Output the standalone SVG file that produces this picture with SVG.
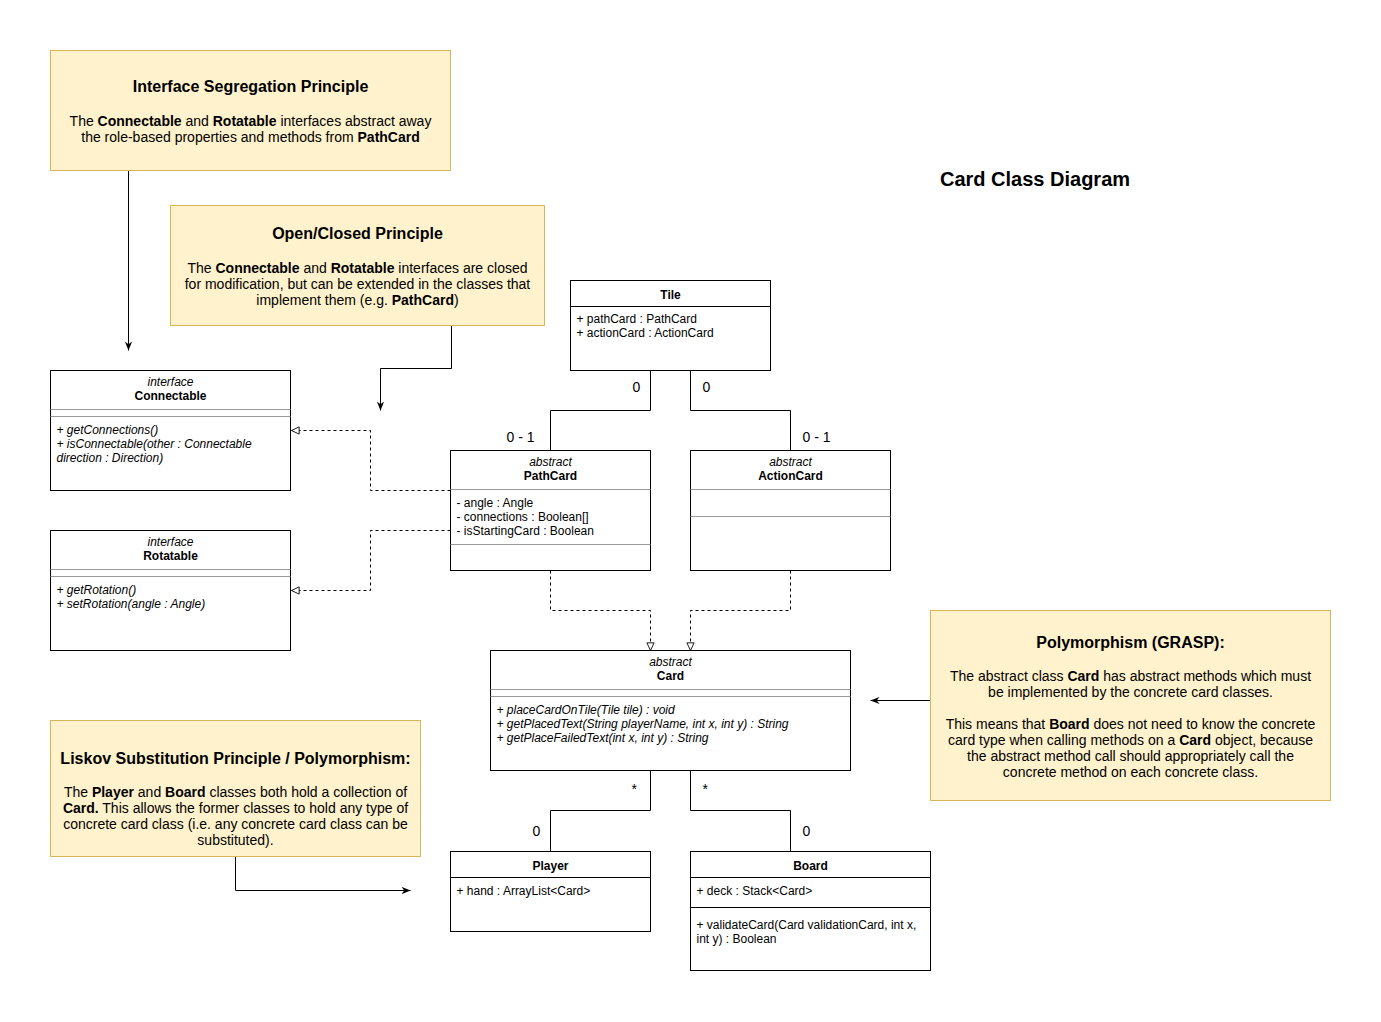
<svg xmlns="http://www.w3.org/2000/svg" width="1381" height="1022" viewBox="0 0 1381 1022">
<defs>
<style>
text{font-family:"Liberation Sans",Arial,Helvetica,sans-serif;fill:#000}
.note{fill:#fff2cc;stroke:#d6b656;stroke-width:1}
.cls{fill:#fff;stroke:#000;stroke-width:1}
.sep{stroke:#999;stroke-width:1}
.sepk{stroke:#000;stroke-width:1}
.nt{font-size:16px;font-weight:bold;text-anchor:middle}
.nb{font-size:14px;text-anchor:middle}
.ct{font-size:12px;font-weight:bold;text-anchor:middle}
.cs{font-size:12px;font-style:italic;text-anchor:middle}
.ca{font-size:12px}
.cm{font-size:12px;font-style:italic}
.lbl{font-size:14px}
.b{font-weight:bold}
.edge{fill:none;stroke:#000;stroke-width:1}
.dash{fill:none;stroke:#000;stroke-width:1;stroke-dasharray:3 3}
</style>
<marker id="arr" viewBox="0 0 10 10" refX="10" refY="5" markerWidth="9" markerHeight="9" orient="auto" markerUnits="userSpaceOnUse"><path d="M0,1 L10,5 L0,9 L3,5 z" fill="#000"/></marker>
<marker id="tri" viewBox="0 0 10 10" refX="9.5" refY="5" markerWidth="9" markerHeight="9" orient="auto" markerUnits="userSpaceOnUse"><path d="M1,1 L9.5,5 L1,9 z" fill="#fff" stroke="#000" stroke-width="1"/></marker>
</defs>
<rect width="1381" height="1022" fill="#fff"/>

<text x="1035" y="186" font-size="20" font-weight="bold" text-anchor="middle">Card Class Diagram</text>

<g transform="translate(0.5 0.5)">
<g id="connectors">
<path class="edge" d="M128,170 V350" marker-end="url(#arr)"/>
<path class="edge" d="M451,325 V368 H380 V410" marker-end="url(#arr)"/>
<path class="edge" d="M930,700 H870" marker-end="url(#arr)"/>
<path class="edge" d="M235,856 V890 H410" marker-end="url(#arr)"/>
<path class="edge" d="M650,370 V410 H550 V450"/>
<path class="edge" d="M690,370 V410 H790 V450"/>
<path class="edge" d="M650,770 V810 H550 V851"/>
<path class="edge" d="M690,770 V810 H790 V851"/>
<path class="dash" d="M450,490 H370 V430 H291" marker-end="url(#tri)"/>
<path class="dash" d="M450,530 H370 V590 H291" marker-end="url(#tri)"/>
<path class="dash" d="M550,570 V610 H650 V650" marker-end="url(#tri)"/>
<path class="dash" d="M790,570 V610 H690 V650" marker-end="url(#tri)"/>
<text class="lbl" x="632" y="391">0</text>
<text class="lbl" x="702" y="391">0</text>
<text class="lbl" x="506" y="441">0 - 1</text>
<text class="lbl" x="802" y="441">0 - 1</text>
<text class="lbl" x="631" y="793" font-size="12">*</text>
<text class="lbl" x="702" y="793" font-size="12">*</text>
<text class="lbl" x="532" y="835">0</text>
<text class="lbl" x="802" y="835">0</text>
</g>

<g id="isp">
<rect class="note" x="50" y="50" width="400" height="120"/>
<text class="nt" x="250" y="91">Interface Segregation Principle</text>
<text class="nb" x="250" y="125">The <tspan class="b">Connectable</tspan> and <tspan class="b">Rotatable</tspan> interfaces abstract away</text>
<text class="nb" x="250" y="141">the role-based properties and methods from <tspan class="b">PathCard</tspan></text>
</g>

<g id="ocp">
<rect class="note" x="170" y="205" width="374" height="120"/>
<text class="nt" x="357" y="238">Open/Closed Principle</text>
<text class="nb" x="357" y="272">The <tspan class="b">Connectable</tspan> and <tspan class="b">Rotatable</tspan> interfaces are closed</text>
<text class="nb" x="357" y="288">for modification, but can be extended in the classes that</text>
<text class="nb" x="357" y="304">implement them (e.g. <tspan class="b">PathCard</tspan>)</text>
</g>

<g id="tile">
<rect class="cls" x="570" y="280" width="200" height="90"/>
<line class="sepk" x1="570" y1="306" x2="770" y2="306"/>
<text class="ct" x="670" y="298">Tile</text>
<text class="ca" x="576" y="322">+ pathCard : PathCard</text>
<text class="ca" x="576" y="336">+ actionCard : ActionCard</text>
</g>

<g id="connectable">
<rect class="cls" x="50" y="370" width="240" height="120"/>
<text class="cs" x="170" y="385">interface</text>
<text class="ct" x="170" y="399">Connectable</text>
<line class="sep" x1="50" y1="409" x2="290" y2="409"/>
<line class="sep" x1="50" y1="416" x2="290" y2="416"/>
<text class="cm" x="56" y="433">+ getConnections()</text>
<text class="cm" x="56" y="447">+ isConnectable(other : Connectable</text>
<text class="cm" x="56" y="461">direction : Direction)</text>
</g>

<g id="rotatable">
<rect class="cls" x="50" y="530" width="240" height="120"/>
<text class="cs" x="170" y="545">interface</text>
<text class="ct" x="170" y="559">Rotatable</text>
<line class="sep" x1="50" y1="569" x2="290" y2="569"/>
<line class="sep" x1="50" y1="576" x2="290" y2="576"/>
<text class="cm" x="56" y="593">+ getRotation()</text>
<text class="cm" x="56" y="607">+ setRotation(angle : Angle)</text>
</g>

<g id="pathcard">
<rect class="cls" x="450" y="450" width="200" height="120"/>
<text class="cs" x="550" y="465">abstract</text>
<text class="ct" x="550" y="479">PathCard</text>
<line class="sep" x1="450" y1="489" x2="650" y2="489"/>
<text class="ca" x="456" y="506">- angle : Angle</text>
<text class="ca" x="456" y="520">- connections : Boolean[]</text>
<text class="ca" x="456" y="534">- isStartingCard : Boolean</text>
<line class="sep" x1="450" y1="544" x2="650" y2="544"/>
</g>

<g id="actioncard">
<rect class="cls" x="690" y="450" width="200" height="120"/>
<text class="cs" x="790" y="465">abstract</text>
<text class="ct" x="790" y="479">ActionCard</text>
<line class="sep" x1="690" y1="489" x2="890" y2="489"/>
<line class="sep" x1="690" y1="516" x2="890" y2="516"/>
</g>

<g id="card">
<rect class="cls" x="490" y="650" width="360" height="120"/>
<text class="cs" x="670" y="665">abstract</text>
<text class="ct" x="670" y="679">Card</text>
<line class="sep" x1="490" y1="689" x2="850" y2="689"/>
<line class="sep" x1="490" y1="696" x2="850" y2="696"/>
<text class="cm" x="496" y="713">+ placeCardOnTile(Tile tile) : void</text>
<text class="cm" x="496" y="727">+ getPlacedText(String playerName, int x, int y) : String</text>
<text class="cm" x="496" y="741">+ getPlaceFailedText(int x, int y) : String</text>
</g>

<g id="polymorphism">
<rect class="note" x="930" y="610" width="400" height="190"/>
<text class="nt" x="1130" y="647">Polymorphism (GRASP):</text>
<text class="nb" x="1130" y="680">The abstract class <tspan class="b">Card</tspan> has abstract methods which must</text>
<text class="nb" x="1130" y="696">be implemented by the concrete card classes.</text>
<text class="nb" x="1130" y="728">This means that <tspan class="b">Board</tspan> does not need to know the concrete</text>
<text class="nb" x="1130" y="744">card type when calling methods on a <tspan class="b">Card</tspan> object, because</text>
<text class="nb" x="1130" y="760">the abstract method call should appropriately call the</text>
<text class="nb" x="1130" y="776">concrete method on each concrete class.</text>
</g>

<g id="liskov">
<rect class="note" x="50" y="720" width="370" height="136"/>
<text class="nt" x="235" y="763">Liskov Substitution Principle / Polymorphism:</text>
<text class="nb" x="235" y="796">The <tspan class="b">Player</tspan> and <tspan class="b">Board</tspan> classes both hold a collection of</text>
<text class="nb" x="235" y="812"><tspan class="b">Card.</tspan> This allows the former classes to hold any type of</text>
<text class="nb" x="235" y="828">concrete card class (i.e. any concrete card class can be</text>
<text class="nb" x="235" y="844">substituted).</text>
</g>

<g id="player">
<rect class="cls" x="450" y="851" width="200" height="80"/>
<text class="ct" x="550" y="869">Player</text>
<line class="sepk" x1="450" y1="877" x2="650" y2="877"/>
<text class="ca" x="456" y="894">+ hand : ArrayList&lt;Card&gt;</text>
</g>

<g id="board">
<rect class="cls" x="690" y="851" width="240" height="119"/>
<text class="ct" x="810" y="869">Board</text>
<line class="sepk" x1="690" y1="877" x2="930" y2="877"/>
<text class="ca" x="696" y="894">+ deck : Stack&lt;Card&gt;</text>
<line class="sepk" x1="690" y1="907" x2="930" y2="907"/>
<text class="ca" x="696" y="928">+ validateCard(Card validationCard, int x,</text>
<text class="ca" x="696" y="942">int y) : Boolean</text>
</g>
</g>
</svg>
